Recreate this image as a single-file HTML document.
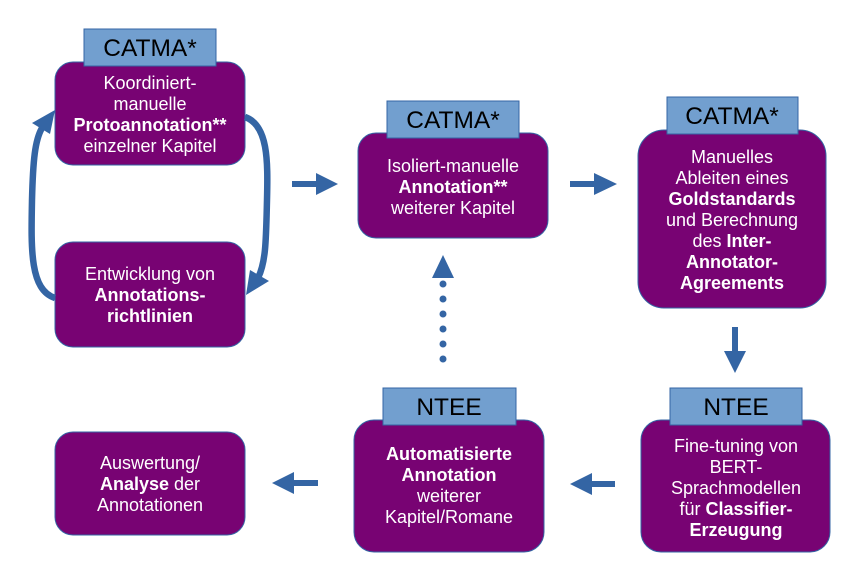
<!DOCTYPE html>
<html><head><meta charset="utf-8"><style>
html,body{margin:0;padding:0;background:#fff;}
svg{display:block;}
text{font-family:"Liberation Sans",sans-serif;font-size:18px;fill:#fff;text-anchor:middle;}
.b{font-weight:bold;}
.l{fill:#000;font-size:24.5px;}
</style></head><body>
<svg width="860" height="580" viewBox="0 0 860 580" xmlns="http://www.w3.org/2000/svg">
<g fill="#780373" stroke="#3465a4" stroke-width="1">
<rect x="55" y="62" width="190" height="103" rx="18"/>
<rect x="55" y="242" width="190" height="105" rx="18"/>
<rect x="358" y="133" width="190" height="105" rx="18"/>
<rect x="638" y="130" width="188" height="178" rx="26"/>
<rect x="641" y="420" width="189" height="132" rx="20"/>
<rect x="354" y="420" width="190" height="132" rx="20"/>
<rect x="55" y="432" width="190" height="103" rx="18"/>
</g>
<g fill="#729fcf" stroke="#3465a4" stroke-width="1">
<rect x="84" y="29" width="132" height="37"/>
<rect x="387" y="101" width="132" height="37"/>
<rect x="667" y="97" width="131" height="37"/>
<rect x="670" y="388" width="132" height="37"/>
<rect x="383" y="388" width="133" height="37"/>
</g>
<text class="l" x="150" y="56">CATMA*</text>
<text class="l" x="453" y="128">CATMA*</text>
<text class="l" x="732" y="124">CATMA*</text>
<text class="l" x="736" y="415">NTEE</text>
<text class="l" x="449" y="415">NTEE</text>

<text x="150" y="89">Koordiniert-</text>
<text x="150" y="110">manuelle</text>
<text x="150" y="131" class="b">Protoannotation**</text>
<text x="150" y="152">einzelner Kapitel</text>

<text x="150" y="280">Entwicklung von</text>
<text x="150" y="301" class="b">Annotations-</text>
<text x="150" y="322" class="b">richtlinien</text>

<text x="453" y="172">Isoliert-manuelle</text>
<text x="453" y="193" class="b">Annotation**</text>
<text x="453" y="214">weiterer Kapitel</text>

<text x="732" y="163">Manuelles</text>
<text x="732" y="184">Ableiten eines</text>
<text x="732" y="205" class="b">Goldstandards</text>
<text x="732" y="226">und Berechnung</text>
<text x="732" y="247"><tspan>des </tspan><tspan class="b">Inter-</tspan></text>
<text x="732" y="268" class="b">Annotator-</text>
<text x="732" y="289" class="b">Agreements</text>

<text x="736" y="452">Fine-tuning von</text>
<text x="736" y="473">BERT-</text>
<text x="736" y="494">Sprachmodellen</text>
<text x="736" y="515"><tspan>für </tspan><tspan class="b">Classifier-</tspan></text>
<text x="736" y="536" class="b">Erzeugung</text>

<text x="449" y="460" class="b">Automatisierte</text>
<text x="449" y="481" class="b">Annotation</text>
<text x="449" y="502">weiterer</text>
<text x="449" y="523">Kapitel/Romane</text>

<text x="150" y="469">Auswertung/</text>
<text x="150" y="490"><tspan class="b">Analyse</tspan><tspan> der</tspan></text>
<text x="150" y="511">Annotationen</text>

<g fill="#3465a4">
<path d="M292,181 L316,181 L316,173 L338,184 L316,195 L316,187 L292,187 z"/>
<path d="M570,181 L594,181 L594,173 L617,184 L594,195 L594,187 L570,187 z"/>
<path d="M732,327 L738,327 L738,351 L746,351 L735,373 L724,351 L732,351 z"/>
<path d="M615,481 L592,481 L592,473 L570,484 L592,495 L592,487 L615,487 z"/>
<path d="M318,480 L294,480 L294,472 L272,483 L294,494 L294,486 L318,486 z"/>
<path d="M443,255 L454,278 L432,278 z"/>
<circle cx="443" cy="284" r="3.5"/>
<circle cx="443" cy="299" r="3.5"/>
<circle cx="443" cy="314" r="3.5"/>
<circle cx="443" cy="329" r="3.5"/>
<circle cx="443" cy="344" r="3.5"/>
<circle cx="443" cy="359" r="3.5"/>
</g>
<path d="M245,117 C268,125 268,160 267,200 C266,240 266,262 258,278" fill="none" stroke="#3465a4" stroke-width="6.5"/>
<path d="M246,295 L250,270 L269,281 z" fill="#3465a4"/>
<path d="M55,298 C30,290 31,250 32,200 C33,160 35,140 42,128" fill="none" stroke="#3465a4" stroke-width="6.5"/>
<path d="M55,110 L32,123 L50,134 z" fill="#3465a4"/>
</svg>
</body></html>
